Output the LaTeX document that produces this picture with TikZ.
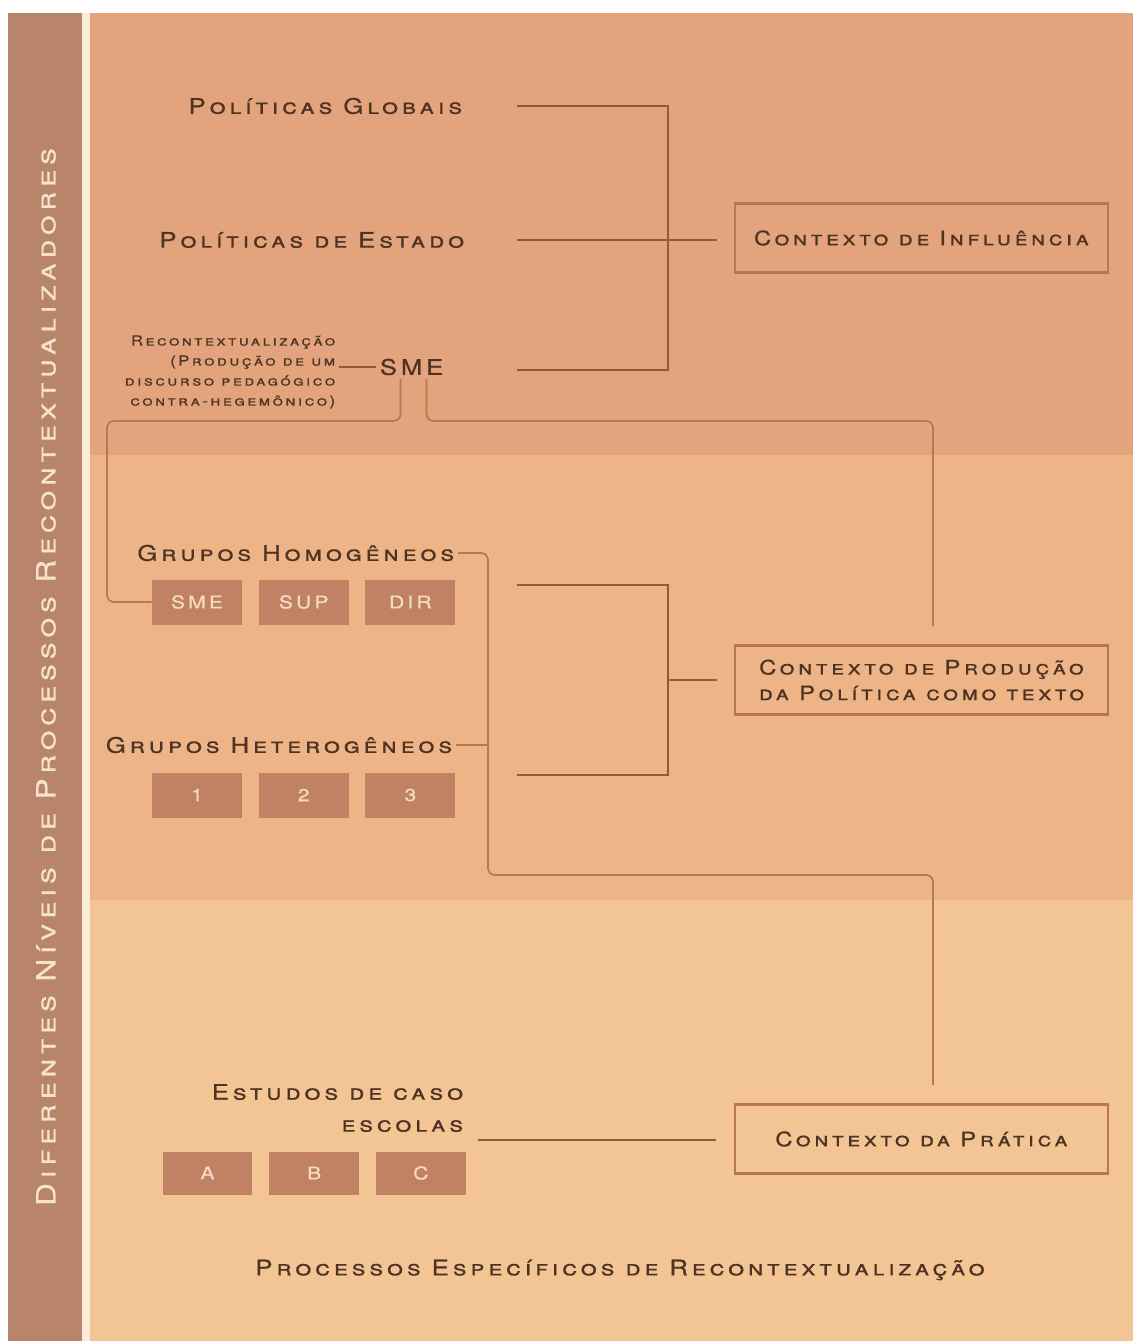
\documentclass[tikz,border=0pt]{standalone}
\usepackage{fontspec}
\setmainfont{TeX Gyre Heros}
\newfontfamily\capsfont[Letters=SmallCaps, LetterSpace=18, FakeStretch=1.2, FakeBold=0.6]{TeX Gyre Heros}
\usetikzlibrary{positioning}

\definecolor{topband}{HTML}{E3A47D}
\definecolor{midband}{HTML}{ECB487}
\definecolor{lowband}{HTML}{F3C594}
\definecolor{sideband}{HTML}{B8856A}
\definecolor{stripe}{HTML}{FBEBD8}
\definecolor{boxfill}{HTML}{C08263}
\definecolor{ink}{HTML}{4E3322}
\definecolor{linecol}{HTML}{8E5A3A}
\definecolor{softline}{HTML}{B8784F}
\definecolor{boxline}{HTML}{B8754F}
\definecolor{sidetext}{HTML}{F7E3CB}
\definecolor{boxtext}{HTML}{F5DCC4}

\begin{document}
\begin{tikzpicture}[x=0.02cm, y=-0.02cm]
        \tikzstyle{level-text}=[text=ink, font=\capsfont\fontsize{12.2}{13}\selectfont, inner sep=2pt]
        \tikzstyle{small-text}=[text=ink, font=\capsfont\fontsize{7.9}{11.4}\selectfont, align=right, inner sep=2pt]
        \tikzstyle{context-box}=[draw=boxline, line width=1.6pt, text=ink, font=\capsfont\fontsize{11.3}{14.6}\selectfont, align=center, minimum width=7.46cm, minimum height=1.38cm]
        \tikzstyle{group-box}=[fill=boxfill, text=boxtext, font=\capsfont\fontsize{10}{12}\selectfont, minimum width=1.8cm, minimum height=0.9cm, inner sep=0pt]
        \tikzstyle{link}=[draw=linecol, line width=1.1pt]
        \tikzstyle{soft-link}=[draw=softline, line width=1pt, rounded corners=4pt]

        \useasboundingbox (0,0) rectangle (1133,1341);
        % bands
        \fill[white] (0,0) rectangle (1133,1341);
        \fill[sideband] (8,13) rectangle (82,1341);
        \fill[stripe] (82,13) rectangle (90,1341);
        \fill[topband] (90,13) rectangle (1133,455);
        \fill[midband] (90,455) rectangle (1133,900);
        \fill[lowband] (90,900) rectangle (1133,1341);

        \node[rotate=90, text=sidetext, font=\capsfont\fontsize{15}{18}\selectfont] (niveis) at (46,677) {Diferentes Níveis de Processos Recontextualizadores};

        \node[level-text, anchor=east] (politicas-globais) at (466,106) {Políticas Globais};
        \node[level-text, anchor=east] (politicas-estado) at (468,240) {Políticas de Estado};
        \node[small-text, anchor=east] (recontext) at (339,372) {Recontextualização\\(Produção de um\\discurso pedagógico\\contra-hegemônico)};
        \node[text=ink, font=\capsfont\fontsize{12.2}{15}\selectfont, anchor=west, inner sep=2pt] (sme) at (376,367) {SME};
        \node[context-box] (ctx-influencia) at (921.5,238) {Contexto de Influência};

        \node[level-text, anchor=east] (grupos-homo) at (458,553) {Grupos Homogêneos};
        \node[group-box] (box-sme) at (197,602) {SME};
        \node[group-box, right=0.32cm of box-sme] (box-sup) {SUP};
        \node[group-box, right=0.32cm of box-sup] (box-dir) {DIR};
        \node[level-text, anchor=east] (grupos-hetero) at (456,745) {Grupos Heterogêneos};
        \node[group-box] (box-1) at (197,795) {1};
        \node[group-box, right=0.32cm of box-1] (box-2) {2};
        \node[group-box, right=0.32cm of box-2] (box-3) {3};
        \node[context-box] (ctx-producao) at (921.5,680) {Contexto de Produção\\da Política como texto};

        \node[level-text, align=right, anchor=east, font=\capsfont\fontsize{12.2}{18.2}\selectfont] (estudos) at (467,1108) {Estudos de caso\\escolas};
        \node[group-box, minimum height=0.86cm] (box-a) at (207.5,1173) {A};
        \node[group-box, minimum height=0.86cm, right=0.32cm of box-a] (box-b) {B};
        \node[group-box, minimum height=0.86cm, right=0.32cm of box-b] (box-c) {C};
        \node[context-box] (ctx-pratica) at (921.5,1139) {Contexto da Prática};
        \node[level-text] (processos) at (620,1270) {Processos Específicos de Recontextualização};

        \coordinate (g-start) at (517,106);
        \coordinate (e-start) at (517,240);
        \coordinate (s-start) at (517,370);
        \coordinate (inf-join) at (668,240);
        \coordinate (h-start) at (517,585);
        \coordinate (t-start) at (517,775);
        \coordinate (prod-join) at (668,680);
        \coordinate (esc-start) at (478,1140);
        \coordinate (sme-turn) at (933,421);
        \coordinate (prod-stub) at (933,626);
        \coordinate (rec-turn) at (107,421);
        \coordinate (long-turn) at (488,875);
        \coordinate (prat-stub) at (933,1085);

        \draw[link] (g-start) -| (inf-join) |- (s-start);
        \draw[link, shorten >=0.34cm] (e-start) -- (e-start -| ctx-influencia.west);
        \draw[link] (h-start) -| (prod-join) |- (t-start);
        \draw[link, shorten >=0.34cm] (prod-join) -- (ctx-producao.west);
        \draw[link, shorten >=0.36cm] (esc-start) -- (esc-start -| ctx-pratica.west);

        \draw[link, line width=0.8pt] (sme.west) -- (sme.west -| recontext.east);
        \draw[soft-link] ([xshift=0.3cm]sme.south) |- (sme-turn) -- (prod-stub);
        \draw[soft-link] ([xshift=-0.22cm]sme.south) |- (rec-turn) |- (box-sme.west);
        \draw[soft-link] (grupos-homo.east) -| (long-turn) -| (prat-stub);
        \draw[soft-link] (grupos-hetero.east) -- (grupos-hetero.east -| long-turn);
    \end{tikzpicture}
\end{document}
